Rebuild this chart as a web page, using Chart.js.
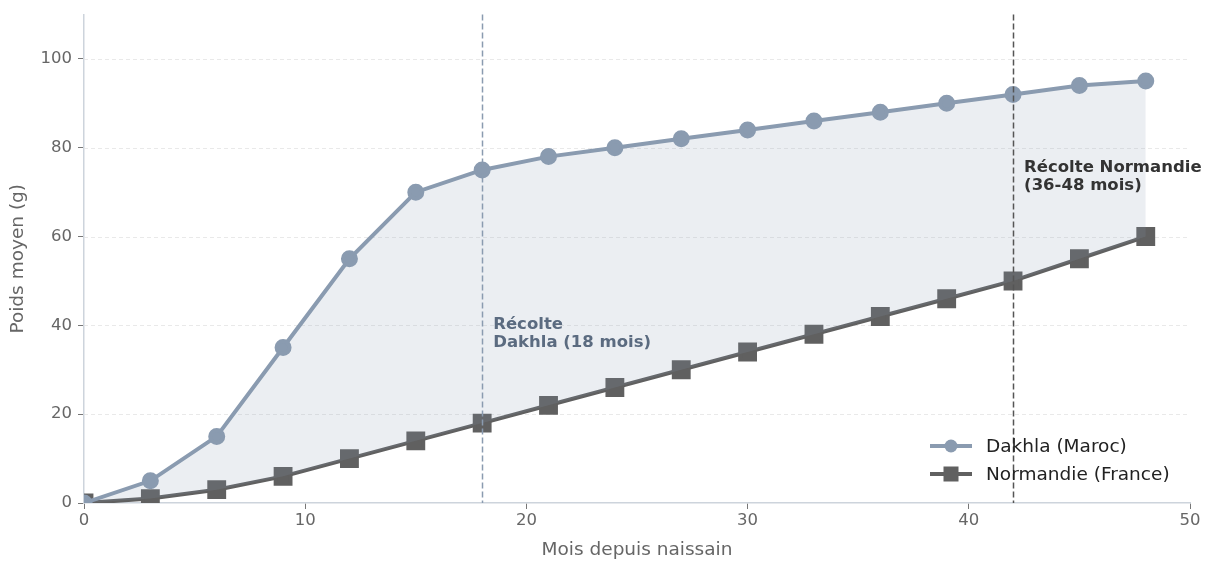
<!DOCTYPE html>
<html><head><meta charset="utf-8">
<script src="https://cdn.jsdelivr.net/npm/chart.js@4"></script>
<style>html,body{margin:0;padding:0;background:#fff}#wrap{width:1212px;height:561px}</style>
</head><body><div id="wrap"><canvas id="c" width="1212" height="561"></canvas></div>
<script>
const months = [0,3,6,9,12,15,18,21,24,27,30,33,36,39,42,45,48];
const dakhla = [0,5,15,35,55,70,75,78,80,82,84,86,88,90,92,94,95];
const normandie = [0,1,3,6,10,14,18,22,26,30,34,38,42,46,50,55,60];
const xTicks = [0,10,20,30,40,50];
const yTicks = [0,20,40,60,80,100];
const seriesNames = ['Dakhla (Maroc)','Normandie (France)'];
const harvestLines = [
  {x:18, color:'#8a9bb0', textColor:'#5b6b80', lines:['Récolte','Dakhla (18 mois)'], tx:18.5, ty:38.3},
  {x:42, color:'#555555', textColor:'#333333', lines:['Récolte Normandie','(36-48 mois)'], tx:42.5, ty:73.5}
];
const C1='#8a9bb0', C2='#606060';
const FONT='"DejaVu Sans", sans-serif';

const overlay = {
  id:'overlay',
  beforeDatasetsDraw(chart){
    const {ctx, chartArea:a, scales:{x,y}} = chart;
    ctx.save();
    ctx.strokeStyle='#e3e3e3'; ctx.lineWidth=0.8; ctx.setLineDash([4,3]);
    yTicks.forEach(v=>{ if(v===0) return; const py=Math.round(y.getPixelForValue(v))+0.5;
      ctx.beginPath(); ctx.moveTo(a.left,py); ctx.lineTo(a.right,py); ctx.stroke(); });
    ctx.restore();
  },
  afterDatasetsDraw(chart){
    const {ctx, chartArea:a, scales:{x,y}} = chart;
    ctx.save();
    harvestLines.forEach(h=>{
      const px=Math.round(x.getPixelForValue(h.x))+0.5;
      ctx.strokeStyle=h.color; ctx.lineWidth=1.5; ctx.setLineDash([6,3]);
      ctx.beginPath(); ctx.moveTo(px,a.top); ctx.lineTo(px,a.bottom); ctx.stroke();
    });
    ctx.setLineDash([]);
    harvestLines.forEach(h=>{
      ctx.fillStyle=h.textColor; ctx.font='bold 16.5px '+FONT; ctx.textBaseline='middle'; ctx.textAlign='left';
      const tx=x.getPixelForValue(h.tx), ty=y.getPixelForValue(h.ty);
      ctx.fillText(h.lines[0], tx, ty-8.5);
      ctx.fillText(h.lines[1], tx, ty+9.5);
    });
    // legend
    const lx=930, ly=[446,474];
    chart.data.datasets.forEach((ds,i)=>{
      ctx.strokeStyle=ds.borderColor; ctx.lineWidth=4;
      ctx.beginPath(); ctx.moveTo(lx,ly[i]); ctx.lineTo(lx+42,ly[i]); ctx.stroke();
      ctx.fillStyle=ds.borderColor;
      if(i===0){ ctx.beginPath(); ctx.arc(lx+21,ly[i],6.5,0,Math.PI*2); ctx.fill(); }
      else { ctx.fillRect(lx+21-7.5,ly[i]-7.5,15,15); }
      ctx.fillStyle='#222'; ctx.font='18.5px '+FONT; ctx.textBaseline='middle';
      ctx.fillText(seriesNames[i], lx+56, ly[i]+1);
    });
    ctx.restore();
  }
};

new Chart(document.getElementById('c'), {
  type:'line',
  data:{ datasets:[
    {label:seriesNames[0], data:months.map((m,i)=>({x:m,y:dakhla[i]})), borderColor:C1, backgroundColor:'rgba(138,155,176,0.17)',
     pointBackgroundColor:C1, pointBorderColor:C1, borderWidth:4, pointRadius:6.5, pointStyle:'circle', fill:'+1', tension:0},
    {label:seriesNames[1], data:months.map((m,i)=>({x:m,y:normandie[i]})), borderColor:C2, backgroundColor:C2,
     pointBackgroundColor:C2, pointBorderColor:C2, borderWidth:4, pointRadius:10.5, pointStyle:'rect', fill:false, tension:0}
  ]},
  options:{
    responsive:false, animation:false, devicePixelRatio:1,
    layout:{padding:{left:0,right:22,top:10,bottom:0}},
    plugins:{legend:{display:false}, tooltip:{enabled:false}},
    scales:{
      x:{type:'linear', min:0, max:50,
        afterBuildTicks(s){ s.ticks = xTicks.map(v=>({value:v})); },
        afterFit(s){ s.height=58; },
        grid:{drawOnChartArea:false, drawTicks:true, tickLength:6, color:'#777', tickWidth:1},
        border:{color:'#cdd4dc', width:1.5},
        ticks:{color:'#666', font:{family:FONT,size:16.5}, padding:2, maxRotation:0},
        title:{display:true, text:'Mois depuis naissain', color:'#666', font:{family:FONT,size:18.5}, padding:{top:4,bottom:0}}
      },
      y:{type:'linear', min:0, max:110,
        afterBuildTicks(s){ s.ticks = yTicks.map(v=>({value:v})); },
        afterFit(s){ s.width=84; s.paddingTop=0; s.paddingBottom=0; },
        grid:{drawOnChartArea:false, drawTicks:true, tickLength:6, color:'#777', tickWidth:1},
        border:{color:'#cdd4dc', width:1.5},
        ticks:{color:'#666', font:{family:FONT,size:16.5}, padding:6},
        title:{display:true, text:'Poids moyen (g)', color:'#666', font:{family:FONT,size:18.5}, padding:{top:7,bottom:4}}
      }
    }
  },
  plugins:[overlay]
});
</script></body></html>
